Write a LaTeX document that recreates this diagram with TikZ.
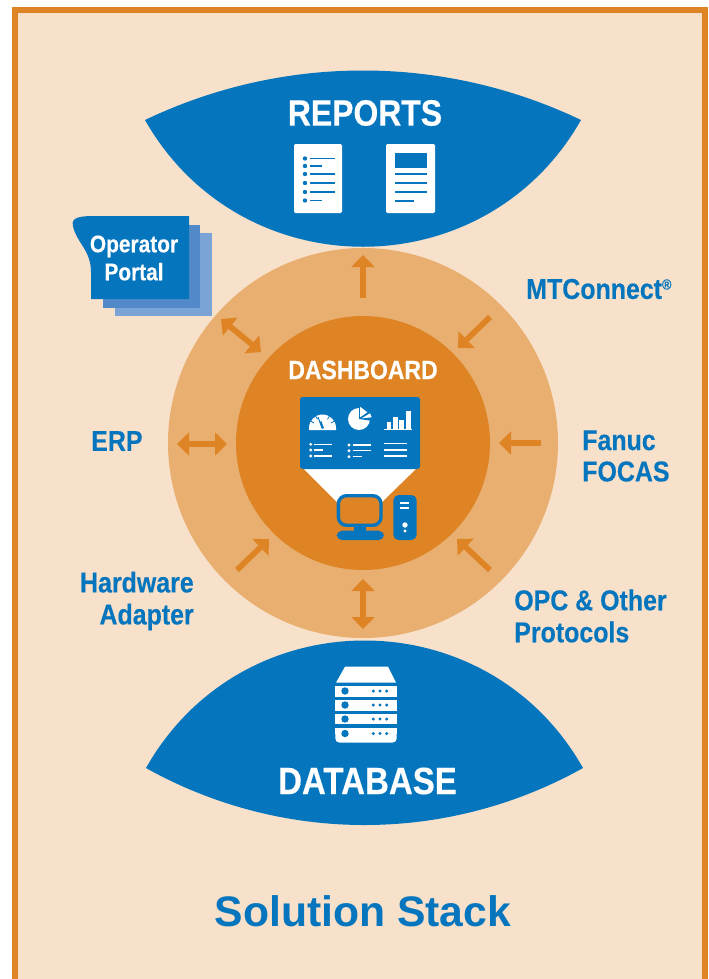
\documentclass[tikz,border=0pt]{standalone}
\usepackage{fontspec}
\setmainfont{Liberation Sans}
\newfontfamily\cnd[FakeStretch=0.87,BoldFeatures={FakeBold=0.35}]{Liberation Sans}
\usetikzlibrary{arrows.meta}
\definecolor{bgc}{HTML}{F7E1CA}
\definecolor{blu}{HTML}{0575BE}
\definecolor{org}{HTML}{DE8425}
\definecolor{rng}{HTML}{E9AF70}
\definecolor{lay1}{HTML}{5289C8}
\definecolor{lay2}{HTML}{7AA3D6}
\newcommand{\fs}[1]{\fontsize{#1}{#1}\selectfont}
\tikzset{
  px/.style={x=0.75pt,y=-0.75pt},
  lbl/.style={font=\cnd\bfseries\fs{21.5},text=blu,inner sep=0pt,align=left},
  lblr/.style={font=\cnd\bfseries\fs{21.5},text=blu,inner sep=0pt,align=right},
  head/.style={font=\cnd\bfseries\fs{27.5},text=white,inner sep=0pt},
  sarrow/.style={draw=org,line width=4.3pt,-{Triangle[length=9pt,width=17pt]}},
  darrow/.style={draw=org,line width=4.3pt,{Triangle[length=9pt,width=17pt]}-{Triangle[length=9pt,width=17pt]}},
  wl/.style={draw=white,line width=0.9pt},
  bl/.style={draw=blu,line width=1.1pt},
}
\begin{document}
\begin{tikzpicture}[px]
\useasboundingbox (0,0) rectangle (709,979);
% frame
\fill[bgc] (15,10) rectangle (705,979);
\draw[org,line width=4.5pt] (15,979) -- (15,10) -- (705,10) -- (705,979);
% circles
\fill[rng] (363,443) circle[radius=195];
\fill[org] (363,443) circle[radius=127];
% lenses
\fill[blu] (145,120) .. controls (283,54) and (443,54) .. (581,120)
  .. controls (485,289) and (241,289) .. (145,120) -- cycle;
\fill[blu] (146,768) .. controls (242,598) and (487,598) .. (583,768)
  .. controls (447,844) and (282,844) .. (146,768) -- cycle;
% headings
\node[head] (reports) at (365,113) {REPORTS};
\node[font=\cnd\bfseries\fs{28.5},text=white,inner sep=0pt] (database) at (367.5,781) {DATABASE};
\node[font=\cnd\bfseries\fs{19.8},text=white,inner sep=0pt] (dash) at (363,370) {DASHBOARD};
\node[font=\bfseries\fs{32},text=blu,inner sep=0pt] (title) at (363,911) {Solution Stack};
% labels
\node[lbl,anchor=west] (mtc) at (526,289) {MTConnect\raisebox{7pt}{\fs{11}\textregistered}};
\node[lbl,anchor=west] (fanuc) at (582,456) {Fanuc\\[2pt]FOCAS};
\node[lbl,anchor=west] (erp) at (91,441) {ERP};
\node[lblr,anchor=east] (hw) at (194,601) {Hardware\\[2.5pt]Adapter};
\node[lbl,anchor=west] (opc) at (514,616) {OPC \& Other\\[2.5pt]Protocols};
% operator portal
\fill[lay2] (115,233) rectangle (212,316);
\fill[lay1] (103,225) rectangle (200,308);
\fill[blu] (189,216) -- (94,216) .. controls (78,216) and (71,218) .. (73,226)
  .. controls (76,242) and (91,250) .. (91,272) -- (91,299) -- (189,299) -- cycle;
\node[font=\cnd\bfseries\fs{18},text=white,inner sep=0pt,align=center] (portal) at (134,258) {Operator\\[3pt]Portal};
% arrows
\coordinate (a1s) at (363,298); \coordinate (a1e) at (363,255);
\coordinate (a2s) at (490,317); \coordinate (a2e) at (458,348);
\coordinate (a3s) at (541,443); \coordinate (a3e) at (499,443);
\coordinate (a4s) at (490,570); \coordinate (a4e) at (457,539);
\coordinate (a5s) at (363,579); \coordinate (a5e) at (363,629);
\coordinate (a6s) at (237,570); \coordinate (a6e) at (269,539);
\coordinate (a7s) at (177,444); \coordinate (a7e) at (227,444);
\coordinate (a8s) at (221,319); \coordinate (a8e) at (261,352);
\draw[sarrow] (a1s) -- (a1e);
\draw[sarrow] (a2s) -- (a2e);
\draw[sarrow] (a3s) -- (a3e);
\draw[sarrow] (a4s) -- (a4e);
\draw[darrow] (a5s) -- (a5e);
\draw[sarrow] (a6s) -- (a6e);
\draw[darrow] (a7s) -- (a7e);
\draw[darrow] (a8s) -- (a8e);
% doc 1
\fill[white,rounded corners=1pt] (294,144) rectangle (342,213);
\foreach \y/\xe in {158.5/335,166/322,174/335,183/335,192/335,200.5/322}{
  \fill[blu] (305,\y) circle[radius=2.2];
  \draw[bl] (310,\y) -- (\xe,\y);
}
% doc 2
\fill[white,rounded corners=1pt] (386,144) rectangle (435,213);
\fill[blu] (395,153) rectangle (427,168);
\foreach \y/\xe in {174/427,183/427,192/427,201/414}{
  \draw[bl] (395,\y) -- (\xe,\y);
}
% dashboard panel
\fill[white] (301,466) -- (419,466) -- (382,502) -- (337,502) -- cycle;
\fill[blu,rounded corners=2pt] (300,397) rectangle (420,469);
% gauge
\fill[white] (309,430) -- (309,428) arc[start angle=180,end angle=360,radius=13.5] -- (336,430) -- cycle;
\draw[blu,line width=0.7pt] (322,428) -- (318,417);
\draw[blu,line width=1.5pt] (323,428.5) -- (320.5,421.5);
\foreach \a in {210,240,300,330}{\draw[blu,line width=0.6pt] (322.5,428) ++(\a:10) -- ++(\a:4);}
% pie
\fill[white] (359,419) circle[radius=11];
\fill[blu] (359,419) -- (359,406) -- (373,406) -- (373,421) -- cycle;
\fill[white] (360,406.7) -- (367.3,412.3) -- (360,417.3) -- cycle;
\fill[white] (361.7,418.3) -- (370,413.3) -- (371.7,417.3) -- cycle;
% bars
\draw[wl] (384,429.7) -- (412,429.7);
\fill[white] (386.7,421.7) rectangle (391,429.5);
\fill[white] (392.7,416.7) rectangle (397.7,429.5);
\fill[white] (399,420) rectangle (404,429.5);
\fill[white] (405.7,410.7) rectangle (410.7,429.5);
% panel lists
\foreach \y/\xe in {444.3/332,450/323,456/332}{
  \fill[white] (310.7,\y) circle[radius=1.6];
  \draw[wl] (314,\y) -- (\xe,\y);
}
\foreach \y/\xe in {445/370.7,450.7/370.7,456.7/361.7}{
  \fill[white] (349,\y) circle[radius=1.6];
  \draw[wl] (352.7,\y) -- (\xe,\y);
}
\foreach \y in {443.3,450,456}{\draw[wl] (384,\y) -- (406.7,\y);}
% monitor
\draw[blu,line width=2.5pt,rounded corners=6pt,fill=org] (338.4,495.7) rectangle (381,525.3);
\fill[blu] (354,526) rectangle (366,532);
\fill[blu,rounded corners=4pt] (336.7,530.7) rectangle (384,540);
% tower
\fill[blu,rounded corners=4pt] (393.3,495) rectangle (416.7,540);
\draw[white,line width=0.9pt] (400,503) -- (409,503);
\draw[white,line width=0.9pt] (400,508) -- (409,508);
\fill[white] (405,525) circle[radius=2.7];
\fill[white] (405,531) circle[radius=1.7];
% server
\fill[white] (345,666.7) -- (388,666.7) -- (396,682.7) -- (336,682.7) -- cycle;
\fill[white] (335.3,686) rectangle (396.7,696.7);
\fill[white] (335.3,700) rectangle (396.7,710.7);
\fill[white] (335.3,714) rectangle (396.7,724.3);
\fill[white,rounded corners=3pt] (335.3,728.3) rectangle (396.7,742.5);
\fill[white] (335.3,728.3) rectangle (396.7,734);
\foreach \y in {691,705,719,733.5}{
  \fill[blu] (345,\y) circle[radius=3.7];
  \foreach \x in {373.3,380,386.7}{\fill[blu] (\x,\y) circle[radius=1.7];}
}
\end{tikzpicture}
\end{document}
